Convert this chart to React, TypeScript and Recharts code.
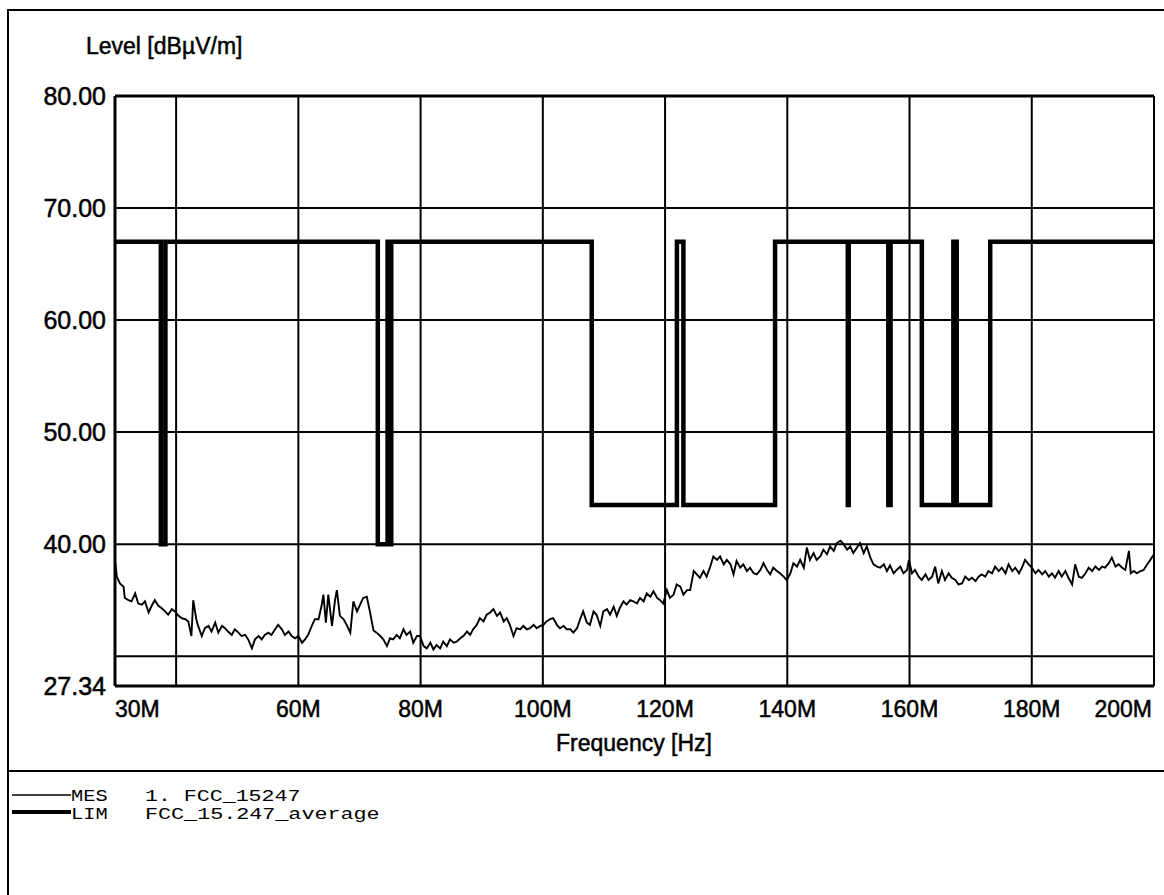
import React from "react";
import { LineChart, Line, XAxis, YAxis, CartesianGrid, ReferenceLine } from "recharts";

const freqA = [30.0, 30.3, 30.8, 31.4, 31.6, 32.2, 32.7, 33.3, 33.8, 34.4, 34.9, 35.5, 36.0, 36.5, 37.1, 37.6, 38.2, 38.7, 39.3, 39.8, 40.4, 40.9, 41.5, 42.0, 42.5, 42.8, 43.3, 43.6, 44.2, 44.7, 45.3, 45.8, 46.4, 46.9, 47.5, 48.0, 48.5, 49.1, 49.6, 50.2, 50.7, 51.3, 51.8, 52.4, 52.9, 53.5, 54.0, 54.5, 55.1, 55.6, 56.2, 56.7, 57.3, 57.8, 58.4, 58.9, 59.5, 60.0, 60.6, 61.1, 61.6, 62.2, 62.7, 63.3, 63.8, 64.1, 64.5, 64.9, 65.5, 66.0, 66.3, 66.8, 67.4, 67.9, 68.5, 69.0, 69.6, 70.1, 70.6, 71.2, 71.7, 72.3];
const levelA = [38.5, 37.1, 36.5, 36.2, 35.2, 35.0, 34.9, 35.6, 34.7, 34.6, 34.9, 33.9, 34.5, 35.0, 34.5, 34.3, 34.0, 33.7, 34.2, 34.0, 33.6, 33.4, 33.3, 33.1, 31.8, 35.0, 33.3, 32.7, 31.8, 32.5, 32.7, 32.2, 33.0, 32.1, 32.7, 32.5, 32.2, 31.9, 32.4, 32.1, 31.8, 31.9, 31.5, 30.7, 31.5, 31.8, 31.5, 31.9, 32.1, 31.9, 32.4, 32.8, 32.4, 31.9, 32.2, 31.8, 31.6, 31.8, 31.2, 31.5, 31.9, 32.7, 33.3, 33.3, 34.5, 35.5, 33.0, 35.5, 32.7, 35.0, 35.9, 33.6, 33.3, 32.8, 32.1, 34.9, 34.0, 34.6, 35.2, 35.3, 34.0, 32.3];

const freqB = [72.8, 73.4, 73.9, 74.5, 75.0, 75.5, 76.1, 76.6, 77.2, 77.7, 78.3, 78.8, 79.4, 79.9, 80.5, 81.0, 81.6, 82.1, 82.6, 83.2, 83.7, 84.3, 84.8, 85.4, 85.9, 86.5, 87.0, 87.6, 88.1, 88.6, 89.2, 89.7, 90.3, 90.8, 91.4, 91.9, 92.5, 93.0, 93.6, 94.1, 94.6, 95.2, 95.7, 96.3, 96.8, 97.4, 97.9, 98.5, 99.0, 99.6, 100.1, 100.6, 101.2, 101.7, 102.3, 102.8, 103.4, 103.9, 104.5, 105.0, 105.6, 106.1, 106.6, 107.2, 107.7, 108.3, 108.8, 109.4, 109.9, 110.5, 111.0, 111.6, 112.1, 112.6, 113.2, 113.7];
const levelB = [32.1, 31.8, 31.5, 30.9, 31.6, 31.5, 31.9, 31.6, 32.4, 31.9, 32.2, 31.2, 31.8, 31.8, 30.9, 30.7, 31.2, 30.6, 31.0, 30.7, 31.3, 30.9, 31.5, 31.2, 31.3, 31.6, 31.8, 32.2, 31.9, 32.4, 32.8, 33.4, 33.1, 33.7, 33.9, 34.2, 33.6, 33.9, 33.1, 33.4, 32.8, 31.8, 32.5, 32.4, 32.7, 32.4, 32.5, 32.8, 32.5, 32.7, 32.8, 33.1, 33.3, 33.4, 32.8, 32.5, 32.7, 32.4, 32.4, 32.1, 32.5, 33.3, 34.0, 33.0, 32.8, 34.0, 33.7, 32.7, 34.0, 34.2, 33.7, 34.4, 33.6, 34.3, 34.9, 34.6];

const freqC = [114.3, 114.8, 115.4, 115.9, 116.5, 117.0, 117.6, 118.1, 118.7, 119.2, 119.7, 120.3, 120.8, 121.4, 121.9, 122.5, 123.0, 123.6, 124.1, 124.7, 125.2, 125.7, 126.3, 126.8, 127.4, 127.9, 128.5, 129.0, 129.6, 130.1, 130.7, 131.2, 131.7, 132.3, 132.8, 133.4, 133.9, 134.5, 135.0, 135.6, 136.1, 136.7, 137.2, 137.7, 138.3, 138.8, 139.4, 139.9, 140.5, 141.0, 141.6, 142.1, 142.7, 143.2, 143.7, 144.3, 144.8, 145.4, 145.9, 146.5, 147.0, 147.6, 148.1, 148.7, 149.2, 149.8, 150.3, 150.8, 151.4, 151.9, 152.5, 153.0, 153.6, 154.1, 154.7, 155.2, 155.8, 156.3, 156.8];
const levelC = [35.0, 34.9, 34.7, 35.2, 34.9, 35.6, 35.3, 35.8, 35.2, 35.0, 34.7, 35.9, 35.2, 35.5, 36.4, 36.2, 35.5, 35.9, 35.9, 37.6, 37.3, 37.0, 37.6, 37.1, 38.0, 38.9, 38.6, 38.9, 38.2, 38.6, 38.2, 37.3, 38.5, 37.9, 38.2, 37.6, 37.9, 37.4, 37.3, 37.7, 38.3, 37.7, 37.3, 37.9, 37.6, 37.4, 37.1, 36.8, 37.4, 38.3, 38.0, 38.6, 37.9, 39.7, 38.6, 39.2, 38.6, 38.9, 39.5, 39.1, 39.8, 39.4, 40.1, 40.3, 40.0, 39.5, 39.8, 39.2, 39.7, 40.1, 39.2, 39.8, 38.8, 38.2, 38.0, 37.9, 38.2, 37.6, 38.1];

const freqD = [157.4, 157.9, 158.5, 159.0, 159.6, 159.9, 160.4, 160.9, 161.5, 162.0, 162.6, 163.1, 163.7, 164.2, 164.7, 165.3, 165.8, 166.4, 166.9, 167.5, 168.0, 168.6, 169.1, 169.7, 170.2, 170.8, 171.3, 171.8, 172.4, 172.9, 173.5, 174.0, 174.6, 175.1, 175.7, 176.2, 176.8, 177.3, 177.9, 178.4, 178.9, 179.5, 180.0, 180.6, 181.1, 181.7, 182.2, 182.8, 183.3, 183.8, 184.4, 184.9, 185.5, 186.0, 186.6, 187.1, 187.7, 188.2, 188.8, 189.3, 189.9, 190.4, 191.0, 191.5, 192.0, 192.6, 193.1, 193.7, 194.2, 194.8, 195.3, 195.9, 196.2, 196.7, 197.2, 197.8, 198.3, 198.9, 199.4, 200.0];
const levelD = [37.4, 37.7, 38.0, 37.4, 37.7, 38.6, 37.4, 37.7, 37.1, 36.8, 37.3, 36.8, 37.1, 38.0, 36.5, 37.6, 36.8, 37.4, 37.0, 36.8, 36.4, 36.5, 37.1, 36.8, 37.0, 36.7, 37.1, 37.3, 37.1, 37.6, 37.4, 38.0, 37.6, 37.9, 37.4, 38.2, 37.6, 37.9, 37.4, 37.9, 38.6, 38.2, 37.9, 37.4, 37.7, 37.3, 37.6, 37.1, 37.4, 37.0, 37.6, 37.1, 37.6, 37.0, 36.4, 38.2, 37.1, 37.0, 37.4, 37.9, 37.6, 38.0, 37.7, 38.0, 37.9, 38.3, 38.8, 38.0, 38.2, 37.9, 37.7, 39.4, 37.4, 37.6, 37.4, 37.6, 37.7, 38.2, 38.6, 39.1];

// FCC 15.247 average limit with restricted bands
const limFreq = [30, 37.5, 37.5, 38.25, 38.25, 73, 73, 74.6, 74.6, 74.8, 74.8, 75.2, 75.2, 108, 108, 121.94, 121.94, 123, 123, 138, 138, 149.9, 149.9, 150.05, 150.05, 156.52475, 156.52475, 156.52525, 156.52525, 156.7, 156.7, 156.9, 156.9, 162.0125, 162.0125, 167.17, 167.17, 167.72, 167.72, 173.2, 173.2, 200];
const limLevel = [67, 67, 40, 40, 67, 67, 40, 40, 67, 67, 40, 40, 67, 67, 43.5, 43.5, 67, 67, 43.5, 43.5, 67, 67, 43.5, 43.5, 67, 67, 43.5, 43.5, 67, 67, 43.5, 43.5, 67, 67, 43.5, 43.5, 67, 67, 43.5, 43.5, 67, 67];

const xTicks = [30, 40, 60, 80, 100, 120, 140, 160, 180, 200];
const yTicks = [27.34, 30, 40, 50, 60, 70, 80];

const measFreq = [...freqA, ...freqB, ...freqC, ...freqD];
const measLevel = [...levelA, ...levelB, ...levelC, ...levelD];
const measured = measFreq.map((f, i) => ({ f, mes: measLevel[i] }));
const limit = limFreq.map((f, i) => ({ f, lim: limLevel[i] }));

const SANS = '"Liberation Sans", Arial, sans-serif';
const MONO = '"Liberation Mono", "Courier New", monospace';

const XTick = (props: any) => {
  const { x, y, payload } = props;
  const v = payload.value;
  if (v === 40) return <g />;
  const anchor = v === 30 ? "start" : v === 200 ? "end" : "middle";
  return (
    <text x={x + (v === 200 ? -2 : 0)} y={y + 31} textAnchor={anchor} fontFamily={SANS} fontSize={23}
      fill="#000" stroke="#000" strokeWidth={0.5}>
      {v}M
    </text>
  );
};

const YTick = (props: any) => {
  const { x, y, payload } = props;
  const v = payload.value;
  if (v === 30) return <g />;
  return (
    <text x={x} y={y + 9} textAnchor="end" fontFamily={SANS} fontSize={25}
      fill="#000" stroke="#000" strokeWidth={0.5}>
      {v.toFixed(2)}
    </text>
  );
};

const legendText = (x: number, y: number, s: string) => (
  <text x={x} y={y} fontFamily={MONO} fontSize={16} fill="#000"
    textLength={s.length * 13.2 - 3} lengthAdjust="spacingAndGlyphs">
    {s}
  </text>
);

const App = () => {
  return (
    <div style={{ position: "absolute", left: 0, top: 0, width: 1164, height: 895, background: "#fff", overflow: "hidden" }}>
      <LineChart width={1164} height={760} margin={{ top: 96, right: 10, bottom: 0, left: 0 }}>
        <CartesianGrid stroke="#000" strokeWidth={2} />
        <XAxis dataKey="f" type="number" domain={[30, 200]} ticks={xTicks} interval={0}
          allowDataOverflow height={74} tickLine={false} tickSize={0} tickMargin={0}
          axisLine={{ stroke: "#000", strokeWidth: 3 }} tick={<XTick />} />
        <YAxis type="number" domain={[27.34, 80]} ticks={yTicks} interval={0}
          allowDataOverflow width={115} tickLine={false} tickSize={0} tickMargin={9}
          axisLine={{ stroke: "#000", strokeWidth: 3 }} tick={<YTick />} />
        <ReferenceLine y={80} stroke="#000" strokeWidth={3} />
        <ReferenceLine x={200} stroke="#000" strokeWidth={2} />
        <Line data={measured} dataKey="mes" type="linear" stroke="#000" strokeWidth={1.9}
          dot={false} activeDot={false} isAnimationActive={false} />
        <Line data={limit} dataKey="lim" type="linear" stroke="#000" strokeWidth={4.5}
          dot={false} activeDot={false} isAnimationActive={false} />
      </LineChart>
      <svg width={1164} height={895} style={{ position: "absolute", left: 0, top: 0, pointerEvents: "none" }}>
        <line x1={8} y1={10} x2={8} y2={895} stroke="#000" strokeWidth={2} />
        <line x1={7} y1={10} x2={1164} y2={10} stroke="#000" strokeWidth={2} />
        <line x1={7} y1={771} x2={1164} y2={771} stroke="#000" strokeWidth={2} />
        <text x={86} y={54} fontFamily={SANS} fontSize={23} fill="#000" stroke="#000" strokeWidth={0.5}>
          Level [dBµV/m]
        </text>
        <text x={634} y={751} textAnchor="middle" fontFamily={SANS} fontSize={23} fill="#000" stroke="#000" strokeWidth={0.5}>
          Frequency [Hz]
        </text>
        <line x1={12} y1={795} x2={71} y2={795} stroke="#000" strokeWidth={1.5} />
        <line x1={12} y1={812} x2={71} y2={812} stroke="#000" strokeWidth={4} />
        {legendText(71, 801, "MES")}
        {legendText(145, 801, "1. FCC_15247")}
        {legendText(71, 819, "LIM")}
        {legendText(145, 819, "FCC_15.247_average")}
      </svg>
    </div>
  );
};

export default App;
